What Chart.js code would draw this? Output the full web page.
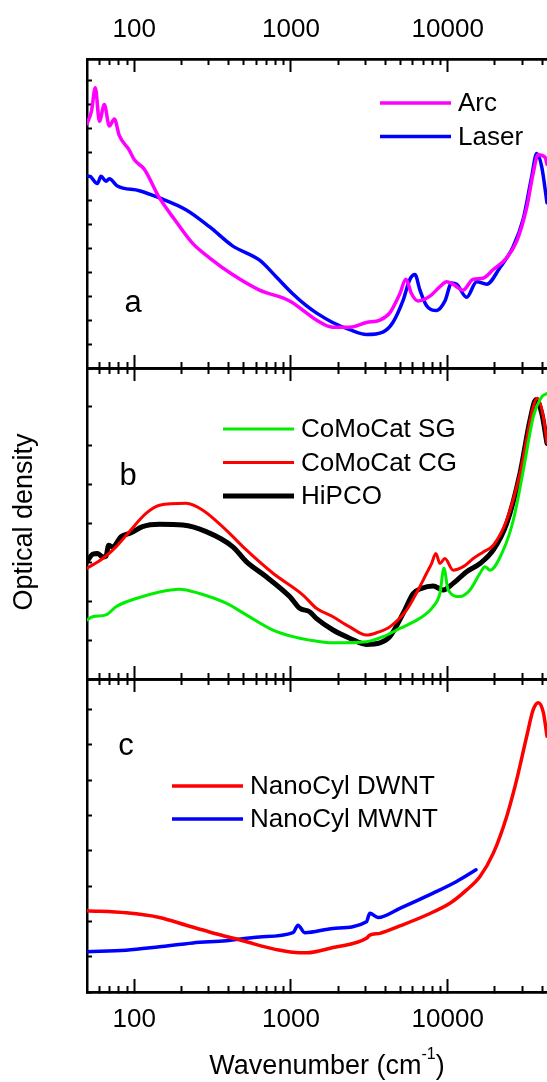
<!DOCTYPE html>
<html>
<head>
<meta charset="utf-8">
<title>Optical density of nanotube films</title>
<script src="https://cdn.jsdelivr.net/npm/chart.js@4/dist/chart.umd.min.js"></script>
<style>
  body { margin: 0; background: #fff; }
  #wrap { position: relative; width: 547px; height: 1082px; }
  #wrap canvas { position: absolute; left: 0; top: 0; }
</style>
</head>
<body>
<div id="wrap">
  <canvas id="panelA" width="547" height="1082"></canvas>
  <canvas id="panelB" width="547" height="1082"></canvas>
  <canvas id="panelC" width="547" height="1082"></canvas>
</div>
<script>
// x axis (wavenumber, cm-1)
const X_MIN = 50;
const X_MAX = 43000;
const majorTicks = [100, 1000, 10000];
const minorTicks = [60, 70, 80, 90, 200, 300, 400, 500, 600, 700, 800, 900,
  2000, 3000, 4000, 5000, 6000, 7000, 8000, 9000, 20000, 30000, 40000];

// panel a
const arcWn = [50, 53.3, 56.5, 60, 64.5, 69.4, 74.7, 80.4, 93, 100, 116, 145, 181, 236, 302, 424, 631, 982, 1254,
  1452, 1846, 2371, 3033, 3690, 4272, 4951, 5411, 5879, 6461, 7703, 8925, 9845, 10795, 12510, 14490, 16800,
  19460, 23790, 27560, 31920, 35030, 37680, 41780, 43000];
const arcOd = [1.02, 1.07, 1.17, 1.03, 1.10, 1.01, 1.04, 0.97, 0.91, 0.87, 0.83, 0.71, 0.62, 0.52, 0.46, 0.39, 0.325, 0.28, 0.23,
  0.20, 0.17, 0.17, 0.19, 0.20, 0.23, 0.31, 0.37, 0.31, 0.28, 0.30, 0.34, 0.36, 0.35, 0.325, 0.37, 0.375,
  0.41, 0.46, 0.53, 0.67, 0.81, 0.89, 0.88, 0.85];
const laserWn = [50, 51.8, 58.2, 61.4, 66.1, 69.4, 78.1, 108, 145, 215, 302, 424, 631, 807, 1026, 1254, 1452, 1846,
  2371, 3033, 3857, 4467, 5177, 5738, 6180, 6653, 7335, 8496, 9610, 10594, 11400, 13210, 15300, 17740,
  21570, 26100, 30260, 34370, 36970, 39800, 43000];
const laserOd = [0.80, 0.80, 0.77, 0.80, 0.78, 0.79, 0.76, 0.74, 0.71, 0.66, 0.59, 0.51, 0.45, 0.38, 0.31, 0.26, 0.23, 0.19,
  0.16, 0.14, 0.15, 0.19, 0.28, 0.37, 0.39, 0.325, 0.26, 0.24, 0.28, 0.355, 0.35, 0.295, 0.36, 0.35,
  0.42, 0.505, 0.62, 0.80, 0.895, 0.84, 0.69];

// panel b
const sgWn = [50, 54.3, 66.1, 76.6, 102.8, 145, 194, 261, 386, 519, 768, 1031, 1316, 1855, 3033, 3873, 4951,
  6637, 8074, 8918, 9460, 10070, 11960, 13870, 16070, 17290, 18620, 22650, 26230, 30370, 35160, 39830, 43000];
const sgOd = [0.152, 0.160, 0.165, 0.186, 0.207, 0.224, 0.231, 0.220, 0.195, 0.165, 0.126, 0.109, 0.100, 0.093, 0.096, 0.109, 0.130,
  0.156, 0.186, 0.220, 0.285, 0.229, 0.212, 0.229, 0.272, 0.289, 0.280, 0.332, 0.409, 0.537, 0.674, 0.726, 0.734];
const cgWn = [50, 63, 76.6, 93.1, 119, 145, 215, 274, 386, 519, 768, 1194, 1452, 1855, 2371, 3033, 3515, 4272,
  5458, 6475, 7335, 7889, 8405, 8918, 9594, 10840, 12560, 14560, 16870, 19550, 23790, 28930, 35160, 37360,
  40770, 43000];
const cgOd = [0.285, 0.310, 0.340, 0.379, 0.426, 0.447, 0.452, 0.434, 0.383, 0.332, 0.272, 0.216, 0.182, 0.160, 0.134, 0.113, 0.119, 0.134,
  0.177, 0.229, 0.272, 0.297, 0.323, 0.297, 0.310, 0.280, 0.289, 0.310, 0.327, 0.344, 0.409, 0.529, 0.700, 0.722,
  0.674, 0.607];
const hipcoWn = [50, 54.3, 58.5, 63, 66.1, 68.7, 72.9, 82.4, 95.5, 113, 145, 204, 288, 426, 519, 696, 982, 1137,
  1316, 1452, 1855, 2371, 3033, 3690, 4272, 5200, 6026, 6808, 8074, 9360, 10840, 13210, 16070, 19550,
  23790, 28930, 33500, 36610, 39830, 43000];
const hipcoOd = [0.302, 0.321, 0.323, 0.314, 0.316, 0.344, 0.340, 0.366, 0.376, 0.392, 0.398, 0.396, 0.379, 0.340, 0.302, 0.263, 0.212, 0.182,
  0.173, 0.156, 0.126, 0.105, 0.089, 0.093, 0.109, 0.169, 0.220, 0.233, 0.239, 0.229, 0.246, 0.276, 0.297, 0.332,
  0.400, 0.529, 0.666, 0.719, 0.683, 0.606];

// panel c
const dwntWn = [50, 88.8, 145, 215, 302, 493, 807, 1137, 1254, 1855, 3033, 3185, 3690, 4951, 7335, 10330, 13210,
  16070, 19550, 23790, 27560, 31920, 35160, 37840, 40770, 43000];
const dwntOd = [0.230, 0.224, 0.211, 0.189, 0.170, 0.145, 0.120, 0.111, 0.111, 0.126, 0.152, 0.161, 0.166, 0.187, 0.218, 0.251, 0.289,
  0.327, 0.393, 0.497, 0.601, 0.724, 0.800, 0.819, 0.791, 0.724];
const mwntWn = [50, 88.8, 145, 237, 386, 631, 1031, 1109, 1224, 1855, 3033, 3185, 3597, 4951, 8074, 11400, 15140];
const mwntOd = [0.114, 0.118, 0.128, 0.139, 0.145, 0.156, 0.168, 0.189, 0.168, 0.180, 0.199, 0.223, 0.211, 0.237, 0.280, 0.313, 0.346];

const FONT = '"Liberation Sans", Arial, Helvetica, sans-serif';
Chart.defaults.font.family = FONT;
Chart.defaults.color = '#000';

function points(xs, ys) {
  return xs.map((x, i) => ({ x: x, y: ys[i] }));
}

function series(label, xs, ys, color, width) {
  return {
    label: label,
    data: points(xs, ys),
    borderColor: color,
    borderWidth: width,
    pointRadius: 0,
    cubicInterpolationMode: 'monotone',
    borderCapStyle: 'round',
    borderJoinStyle: 'round',
    fill: false
  };
}

// one edge of the frame: ticks point into the plot, size 0 so panels butt together.
// mirror keeps the labels from being clipped to the zero-height box; the negative
// padding pushes them back outside the frame.
function edgeAxis(pos, values, len, labels, pad) {
  return {
    type: 'logarithmic',
    position: pos,
    min: X_MIN,
    max: X_MAX,
    afterBuildTicks: s => { s.ticks = values.map(v => ({ value: v })); },
    afterFit: s => { s.height = 0; },
    grid: { display: true, drawOnChartArea: false, drawTicks: true, tickLength: -len, tickWidth: 2, tickColor: '#000' },
    border: { display: true, color: '#000', width: 2.5 },
    ticks: {
      display: labels,
      mirror: true,
      autoSkip: false,
      maxRotation: 0,
      padding: pad || 0,
      color: '#000',
      font: { size: 26 },
      callback: v => String(v)
    }
  };
}

function panelScales(yMax, topLabels, bottomLabels) {
  return {
    x: edgeAxis('bottom', minorTicks, 6, false),
    xMajor: edgeAxis('bottom', majorTicks, 13, bottomLabels, -43),
    xTop: edgeAxis('top', minorTicks, 6, false),
    xTopMajor: edgeAxis('top', majorTicks, 13, topLabels, -45),
    y: {
      type: 'linear',
      min: 0,
      max: yMax,
      afterFit: s => { s.width = 0; },
      grid: { display: true, drawOnChartArea: false, drawTicks: true, tickLength: -5, tickWidth: 2, tickColor: '#000' },
      border: { display: true, color: '#000', width: 2.5 },
      ticks: { display: false, stepSize: 0.1, includeBounds: false }
    }
  };
}

// panel letter, in-plot legend and any extra titles
const panelText = {
  id: 'panelText',
  afterDraw(chart, args, opts) {
    const ctx = chart.ctx;
    const area = chart.chartArea;
    ctx.save();
    ctx.fillStyle = '#000';
    ctx.textBaseline = 'middle';
    ctx.textAlign = 'center';
    ctx.font = '31px ' + FONT;
    ctx.fillText(opts.letter, area.left + opts.letterAt[0], area.top + opts.letterAt[1]);

    ctx.font = '26px ' + FONT;
    ctx.textAlign = 'left';
    chart.data.datasets.forEach((ds, i) => {
      const x = area.left + opts.legendAt[0];
      const y = area.top + opts.legendAt[1] + i * opts.legendGap;
      ctx.strokeStyle = ds.borderColor;
      ctx.lineWidth = ds.borderWidth;
      ctx.lineCap = 'butt';
      ctx.beginPath();
      ctx.moveTo(x, y);
      ctx.lineTo(x + 71, y);
      ctx.stroke();
      ctx.fillText(ds.label, x + 78, y + 1);
    });

    if (opts.yTitle) {
      ctx.save();
      ctx.font = '27px ' + FONT;
      ctx.textAlign = 'center';
      ctx.translate(25, 522);
      ctx.rotate(-Math.PI / 2);
      ctx.fillText(opts.yTitle, 0, 0);
      ctx.restore();
    }
    if (opts.xTitle) {
      const main = opts.xTitle[0], sup = opts.xTitle[1], close = opts.xTitle[2];
      ctx.font = '27px ' + FONT;
      const w1 = ctx.measureText(main).width;
      const w3 = ctx.measureText(close).width;
      ctx.font = '16px ' + FONT;
      const w2 = ctx.measureText(sup).width;
      let x = 327 - (w1 + w2 + w3) / 2;
      const y = 1067;
      ctx.textAlign = 'left';
      ctx.font = '27px ' + FONT;
      ctx.fillText(main, x, y);
      x += w1;
      ctx.font = '16px ' + FONT;
      ctx.fillText(sup, x, y - 12);
      x += w2;
      ctx.font = '27px ' + FONT;
      ctx.fillText(close, x, y);
    }
    ctx.restore();
  }
};

function makePanel(id, datasets, yMax, pad, text, topLabels, bottomLabels) {
  return new Chart(document.getElementById(id), {
    type: 'line',
    data: { datasets: datasets },
    options: {
      responsive: false,
      animation: false,
      layout: { padding: pad },
      scales: panelScales(yMax, topLabels, bottomLabels),
      plugins: {
        legend: { display: false },
        tooltip: { enabled: false },
        panelText: text
      }
    },
    plugins: [panelText]
  });
}

makePanel('panelA', [
  series('Arc', arcWn, arcOd, '#ff00ff', 3.5),
  series('Laser', laserWn, laserOd, '#0000ff', 3.5)
], 1.29, { top: 59, bottom: 714, left: 87, right: 0 },
{ letter: 'a', letterAt: [46, 244], legendAt: [293, 44], legendGap: 33.5 }, true, false);

makePanel('panelB', [
  series('CoMoCat SG', sgWn, sgOd, '#00ee00', 3),
  series('CoMoCat CG', cgWn, cgOd, '#ff0000', 3),
  series('HiPCO', hipcoWn, hipcoOd, '#000000', 5)
], 0.8, { top: 368, bottom: 403, left: 87, right: 0 },
{ letter: 'b', letterAt: [41, 108], legendAt: [136, 61], legendGap: 33.5, yTitle: 'Optical density' }, false, false);

makePanel('panelC', [
  series('NanoCyl DWNT', dwntWn, dwntOd, '#ff0000', 3.5),
  series('NanoCyl MWNT', mwntWn, mwntOd, '#0000ff', 3.5)
], 0.886, { top: 679, bottom: 90, left: 87, right: 0 },
{ letter: 'c', letterAt: [39, 67], legendAt: [85, 107], legendGap: 33, xTitle: ['Wavenumber (cm', '-1', ')'] }, false, true);
</script>
</body>
</html>
